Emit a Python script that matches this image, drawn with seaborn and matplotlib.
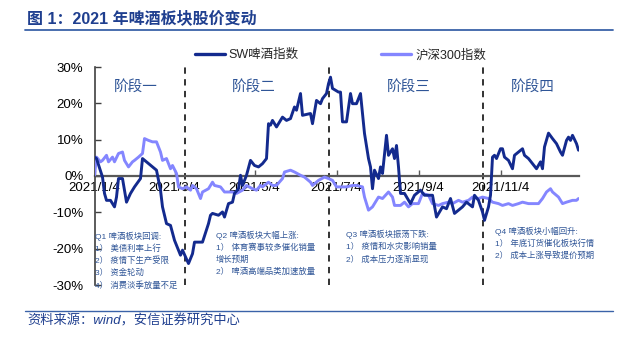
import matplotlib
matplotlib.use("Agg")
import matplotlib.pyplot as plt
import numpy as np
import pandas as pd
import seaborn as sns
from matplotlib.ticker import FuncFormatter

# ---------------- data ----------------
series_names = ["SW啤酒指数", "沪深300指数"]

sw_days = [0, 1, 4, 5, 6, 8, 10, 11, 12, 14, 16, 18, 20, 23, 24, 29, 31, 33, 34, 36,
           38, 40, 43, 44, 47, 49, 50, 54, 57, 58, 59, 62, 64, 65, 67, 69, 70, 72, 73, 74,
           76, 78, 80, 82, 84, 86, 87, 88, 89, 91, 93, 94, 96, 98, 100, 101, 103, 104, 108, 109,
           111, 113, 114, 116, 117, 118, 119, 122, 123, 124, 126, 128, 129, 131, 133, 135, 137, 138, 139, 140,
           142, 143, 144, 146, 147, 149, 150, 151, 152, 153, 155, 158, 160, 163, 165, 169, 171, 174, 176, 178,
           180, 182, 184, 186, 189, 190, 192, 194, 195, 197, 198, 199, 200, 201, 203, 204, 205, 207, 209, 210,
           212, 214, 215, 217, 219, 221, 223, 224, 225, 227, 229, 231, 233, 234, 236, 237, 238, 239, 241, 242]
sw_values = [5.2, 4.8, -0.3, -4.8, -6.7, -6.7, -8.5, -5.8, -0.7, -0.7, -7.2, -4.8, -3.0, -0.7, 4.8, 2.5, 1.6, -3.9, -8.5, -13.1,
             -13.6, -17.7, -21.8, -20.4, -24.1, -21.4, -18.2, -18.2, -13.1, -10.8, -10.3, -10.8, -9.9, -11.3, -7.6, -7.2, -4.8, -3.5, 0.2, -2.6,
             0.2, 4.3, 2.9, 2.5, 3.4, 4.8, 14.4, 14.0, 15.3, 13.5, 15.3, 16.2, 15.3, 15.8, 19.0, 18.1, 22.7, 16.7, 17.2, 14.4,
             20.8, 19.9, 21.3, 22.7, 25.4, 27.2, 24.1, 23.1, 23.1, 14.9, 14.9, 22.7, 19.9, 19.9, 22.7, 11.7, 4.8, 2.5, -3.5, 1.6,
             -0.7, 2.5, 0.7, 11.2, 5.7, 7.5, 4.8, 8.4, 2.5, -4.8, -4.8, -7.6, -5.3, -3.9, -5.3, -5.3, -11.3, -8.5, -9.0, -6.2,
             -10.3, -9.4, -8.5, -7.2, -8.5, -5.3, -6.7, -9.9, -12.2, -8.5, -5.3, 5.2, 5.7, 4.8, 7.5, 7.5, 5.2, 4.3, 2.0, 5.7,
             6.6, 7.5, 5.7, 4.8, 3.4, 2.0, 3.9, 2.0, 8.0, 11.8, 10.3, 8.9, 6.6, 5.7, 9.8, 10.7, 9.8, 11.2, 8.9, 7.1]

hs_days = [0, 1, 3, 4, 6, 7, 9, 10, 12, 14, 15, 17, 19, 20, 22, 24, 25, 27, 29, 31,
           33, 34, 36, 38, 39, 41, 42, 44, 46, 48, 49, 51, 53, 54, 57, 59, 60, 63, 65, 67,
           69, 71, 74, 76, 79, 81, 83, 84, 87, 89, 91, 94, 95, 98, 100, 103, 105, 108, 109, 112,
           115, 117, 119, 121, 124, 126, 129, 131, 134, 135, 137, 139, 140, 142, 144, 147, 149, 150, 153, 155,
           157, 159, 162, 164, 167, 169, 172, 174, 177, 179, 182, 184, 187, 189, 192, 194, 197, 199, 202, 204,
           207, 209, 212, 214, 217, 219, 222, 224, 226, 228, 229, 232, 234, 236, 239, 241, 242]
hs_values = [0.2, 5.2, 3.9, 4.3, 5.7, 3.9, 5.2, 3.9, 6.2, 6.6, 4.3, 2.5, 3.9, 4.3, 5.2, 6.2, 10.3, 9.8, 9.4, 9.4,
             6.6, 4.3, 4.8, 2.0, 2.9, 0.7, -3.0, -3.5, -3.0, -3.9, -2.6, -3.5, -6.2, -4.4, -3.5, -1.7, -2.6, -3.0, -4.4, -4.4,
             -4.4, -4.8, -3.9, -2.6, -3.5, -3.9, -2.6, -3.0, -1.7, -2.6, -2.6, -0.7, 1.1, 1.6, 1.1, 0.2, -0.3, -1.7, -2.6, -1.2,
             -0.3, -0.7, -1.2, -3.0, -3.0, -3.0, -2.6, -2.6, -3.0, -5.8, -9.4, -8.5, -7.6, -5.8, -6.2, -4.4, -5.8, -8.1, -8.1, -7.2,
             -8.5, -7.6, -7.6, -4.8, -5.3, -7.6, -8.1, -7.6, -7.2, -7.6, -6.7, -7.2, -6.7, -5.8, -6.2, -5.8, -6.2, -7.2, -7.6, -8.1,
             -7.6, -8.1, -7.6, -7.2, -7.6, -7.6, -7.6, -6.2, -4.4, -3.5, -4.4, -5.8, -7.6, -7.2, -6.7, -6.7, -6.2]

tick_days = [0, 40, 80, 121, 162, 203]
tick_labels = ["2021/1/4", "2021/3/4", "2021/5/4", "2021/7/4", "2021/9/4", "2021/11/4"]
y_ticks = [-30, -20, -10, 0, 10, 20, 30]

phase_bounds = [45.4, 117.3, 194.3]
phase_names = ["阶段一", "阶段二", "阶段三", "阶段四"]

q1_notes = ["Q1 啤酒板块回调:", "1） 美债利率上行", "2） 疫情下生产受限", "3） 资金轮动", "4） 消费淡季放量不足"]
q2_notes = ["Q2 啤酒板块大幅上涨:", "1） 体育赛事较多催化销量", "增长预期", "2） 啤酒高端品类加速放量"]
q3_notes = ["Q3 啤酒板块振荡下跌:", "1） 疫情和水灾影响销量", "2） 成本压力逐渐显现"]
q4_notes = ["Q4 啤酒板块小幅回升:", "1） 年底订货催化板块行情", "2） 成本上涨导致提价预期"]

title_text = "图 1：2021 年啤酒板块股价变动"
source_text = "资料来源：wind，安信证券研究中心"

# ---------------- style ----------------
sns.set_theme(style="white")
plt.rcParams["font.family"] = ["Liberation Sans", "Noto Sans CJK SC"]
plt.rcParams["axes.unicode_minus"] = False

c_sw = "#132A8E"
c_hs = "#8486FF"
c_note = "#2F5597"
c_title = "#1F3F8F"

W, H = 637, 340
fig = plt.figure(figsize=(W / 100, H / 100), dpi=100)
fig.patch.set_facecolor("white")
ax = fig.add_axes([94.5 / W, 1 - 285 / H, (578.5 - 94.5) / W, (285 - 67) / H])
ax.set_facecolor("white")

df = pd.concat([
    pd.DataFrame({"day": sw_days, "value": sw_values, "series": series_names[0]}),
    pd.DataFrame({"day": hs_days, "value": hs_values, "series": series_names[1]}),
], ignore_index=True)

for b in phase_bounds:
    ax.axvline(b, color="#222222", lw=1.3, ls=(0, (3.5, 3)), zorder=1)

sns.lineplot(data=df, x="day", y="value", hue="series", hue_order=series_names[::-1],
             palette={series_names[0]: c_sw, series_names[1]: c_hs},
             estimator=None, sort=False, linewidth=2.1, legend=False, ax=ax, zorder=3)

ax.set_xlim(0, 242)
ax.set_ylim(-30, 30)
ax.set_yticks(y_ticks)
ax.yaxis.set_major_formatter(FuncFormatter(lambda v, p: f"{int(v)}%"))
ax.set_xticks(tick_days)
ax.set_xticklabels(tick_labels)
ax.set_xlabel("")
ax.set_ylabel("")

for s in ["top", "right"]:
    ax.spines[s].set_visible(False)
ax.spines["bottom"].set_position(("data", 0))
ax.spines["bottom"].set_color("#595959")
ax.spines["bottom"].set_linewidth(1.6)
ax.spines["bottom"].set_zorder(2)
ax.spines["left"].set_color("#404040")
ax.spines["left"].set_linewidth(1.2)
ax.tick_params(axis="y", direction="in", length=4, width=1, color="#404040",
               labelsize=9.5, pad=8, labelcolor="black", left=True)
ax.tick_params(axis="x", direction="in", length=4, width=1, color="#595959",
               labelsize=9.5, pad=4.5, labelcolor="black", bottom=True)
ax.grid(False)

# phase labels
phase_x = [20.6, 79.4, 157.3, 219]
for name, xp in zip(phase_names, phase_x):
    ax.text(xp, 24.6, name, color=c_note, fontsize=10.5, ha="center", va="center", zorder=4)

# legend
handles = [plt.Line2D([], [], color=c_sw, lw=2.4), plt.Line2D([], [], color=c_hs, lw=2.4)]
fig.legend(handles, series_names, loc="center left", bbox_to_anchor=(195 / W, 1 - 55 / H),
           ncol=2, frameon=False, fontsize=9, handlelength=2.4, handletextpad=0.3,
           columnspacing=6.6, borderpad=0, borderaxespad=0)

# notes
def put_notes(lines_, x0, y0, dy=12.3):
    for k, t in enumerate(lines_):
        fig.text(x0 / W, 1 - (y0 + k * dy) / H, t, color=c_note, fontsize=6,
                 ha="left", va="center")

put_notes(q1_notes, 95, 236)
put_notes(q2_notes, 216, 235)
put_notes(q3_notes, 346, 234.5)
put_notes(q4_notes, 495, 231)

# title & source
fig.text(27 / W, 1 - 18 / H, title_text, color=c_title, fontsize=11.5, fontweight="bold",
         ha="left", va="center")
fig.add_artist(plt.Line2D([25 / W, 613 / W], [1 - 29.5 / H, 1 - 29.5 / H], color="#3A62A8", lw=1.3))
fig.add_artist(plt.Line2D([25 / W, 613 / W], [1 - 310.5 / H, 1 - 310.5 / H], color="#3A62A8", lw=1.0))
fig.text(27 / W, 1 - 321 / H, source_text, color=c_title, fontsize=9.5, style="italic",
         ha="left", va="center")

fig.savefig("out.png", dpi=100, facecolor="white")
